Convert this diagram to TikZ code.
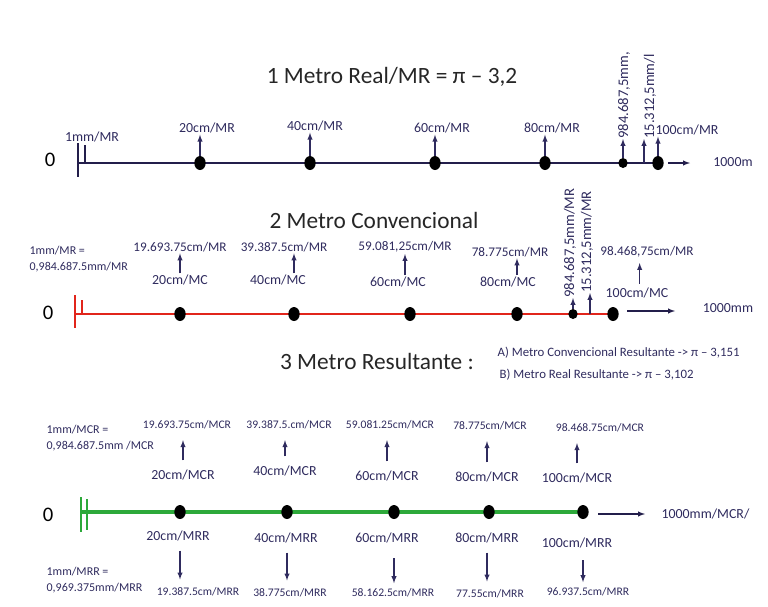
\documentclass[tikz,border=0pt]{standalone}
\usepackage{fontspec}
\setmainfont{Carlito}
\usepackage{tikz}
\usetikzlibrary{arrows}
\usetikzlibrary{positioning}
\usetikzlibrary{shapes.geometric}
\definecolor{ink}{HTML}{2F2B5E}
\definecolor{navy}{HTML}{231E4B}
\definecolor{rojo}{HTML}{E1251B}
\definecolor{verde}{HTML}{2DA93A}

\begin{document}
\begin{tikzpicture}[x=0.75pt,y=-0.75pt,
	lbl/.style={text=ink,font=\fontsize{10.4}{12}\selectfont,inner sep=1pt},
	val/.style={text=ink,font=\fontsize{9.9}{12}\selectfont,inner sep=1pt},
	vsm/.style={text=ink,font=\fontsize{8.7}{10}\selectfont,inner sep=1pt},
	sml/.style={text=ink,font=\fontsize{9}{12}\selectfont,inner sep=1pt,align=left,anchor=west},
	vlbl/.style={text=ink,font=\fontsize{11}{12}\selectfont,rotate=90,anchor=west,inner sep=0pt},
	ttl/.style={text=black!85,font=\fontsize{17.5}{20}\selectfont},
	zero/.style={font=\fontsize{15.5}{18}\selectfont},
	pnt/.style={ellipse,fill=black,inner sep=0pt,minimum width=8.5pt,minimum height=10.5pt},
	spnt/.style={ellipse,fill=black,inner sep=0pt,minimum width=7pt,minimum height=7.5pt},
	up/.style={-latex,ink,line width=0.8pt}
	]
	\useasboundingbox (0,0) rectangle (768,607);
	
	\node[ttl] (t1) at (392,77) {1 Metro Real/MR = π – 3,2};
	\node[zero] (o1) at (50,160) {0};
	\coordinate (s1) at (78,163);
	\coordinate (e1) at (658,163);
	\draw[navy,line width=2.2pt] (s1)--(e1);
	\draw[navy,line width=1.5pt] (78,143)--(78,177);
	\draw[navy,line width=1.5pt] (85,145)--(85,163);
	
	\node[pnt] (a20) at (200,163) {};
	\node[pnt] (a40) at (310,163) {};
	\node[pnt] (a60) at (435,163) {};
	\node[pnt] (a80) at (545,163) {};
	\node[spnt] (a98) at (623,163) {};
	\node[pnt] (a100) at (658,163) {};
	\coordinate (c15) at (644,163);
	
	\node[lbl] (l1) at (92,137) {1mm/MR};
	\node[lbl] (l20) at (207,128) {20cm/MR};
	\node[lbl] (l40) at (315,126) {40cm/MR};
	\node[lbl] (l60) at (442,128) {60cm/MR};
	\node[lbl] (l80) at (552,128) {80cm/MR};
	\node[lbl] (l100) at (687,130) {100cm/MR};
	\node[vlbl] (v98) at (624,139) {984.687,5mm,};
	\node[vlbl] (v15) at (650,139) {15.312,5mm/l};
	
	\draw[up] (a20.north)--(a20.north |- l20.south);
	\draw[up] (a40.north)--(a40.north |- l40.south);
	\draw[up] (a60.north)--(a60.north |- l60.south);
	\draw[up] (a80.north)--(a80.north |- l80.south);
	\draw[up] (a98.north)--(a98.north |- v98.west);
	\draw[up] (c15)--(c15 |- v15.west);
	\draw[up] (a100.north)--(a100.north |- l100.south);
	
	\coordinate (r1a) at (668,163);
	\coordinate (r1b) at (690,163);
	\draw[up,navy] (r1a)--(r1b);
	\node[lbl] (m1) at (733,162) {1000m};
	
	
	\node[ttl] (t2) at (374,220) {2 Metro Convencional};
	\node[sml] (k2) at (28,259) {1mm/MR =\\0,984.687.5mm/MR};
	\node[zero] (o2) at (48,313) {0};
	\coordinate (s2) at (75,314);
	\coordinate (e2) at (613,314);
	\draw[rojo,line width=2.2pt] (s2)--(e2);
	\draw[rojo,line width=1.5pt] (75,295)--(75,328);
	\draw[rojo,line width=1.5pt] (82,300)--(82,314);
	
	\node[pnt] (b20) at (180,314) {};
	\node[pnt] (b40) at (294,314) {};
	\node[pnt] (b60) at (410,314) {};
	\node[pnt] (b80) at (517,314) {};
	\node[spnt] (b98) at (573,314) {};
	\node[pnt] (b100) at (613,314) {};
	\coordinate (c15b) at (590,314);
	
	\node[val] (p20) at (180,247) {19.693.75cm/MR};
	\node[val] (p40) at (284,247) {39.387.5cm/MR};
	\node[val] (p60) at (405,247) {59.081,25cm/MR};
	\node[val] (p80) at (510,252) {78.775cm/MR};
	\node[val] (p100) at (647,252) {98.468,75cm/MR};
	\node[lbl] (q20) at (180,280) {20cm/MC};
	\node[lbl] (q40) at (278,280) {40cm/MC};
	\node[lbl] (q60) at (398,282) {60cm/MC};
	\node[lbl] (q80) at (508,282) {80cm/MC};
	\node[lbl] (q100) at (637,293) {100cm/MC};
	\node[vlbl] (w98) at (570,298) {984.687,5mm/MR};
	\node[vlbl] (w15) at (587,293) {15.312,5mm/MR};
	
	\draw[up] (q20.north -| b20)--(p20.south -| b20);
	\draw[up] (q40.north -| b40)--(p40.south -| b40);
	\draw[up] (q60.north -| p60)--(p60.south);
	\draw[up] (q80.north -| b80)--(p80.south -| b80);
	\draw[up,shorten >=3pt,shorten <=2pt] ([xshift=2pt]q100.north)--([xshift=2pt]q100.north |- p100.south);
	\draw[up] (b98.north)--(b98.north |- w98.west);
	\draw[up] (c15b)--(c15b |- w15.west);
	
	\coordinate (r2a) at (627,311);
	\coordinate (r2b) at (675,311);
	\draw[up,navy] (r2a)--(r2b);
	\node[lbl] (m2) at (728,308) {1000mm};
	
	
	\node[ttl] (t3) at (377,361) {3 Metro Resultante :};
	\node[text=ink,font=\fontsize{9.6}{12}\selectfont,anchor=west] (ra) at (493,353) {A) Metro Convencional Resultante -> π – 3,151};
	\node[text=ink,font=\fontsize{9.6}{12}\selectfont,anchor=west] (rb) at (495,375) {B) Metro Real Resultante -> π – 3,102};
	
	\node[sml] (k3) at (45,438) {1mm/MCR =\\0,984.687.5mm /MCR};
	\node[zero] (o3) at (48,515) {0};
	\coordinate (s3) at (81,512);
	\coordinate (e3) at (583,512);
	\draw[verde,line width=2.8pt] (s3)--(e3);
	\draw[verde,line width=1.8pt] (81,497)--(81,532);
	\draw[verde,line width=1.8pt] (87,499)--(87,530);
	
	\node[pnt] (c20) at (180,512) {};
	\node[pnt] (c40) at (287,512) {};
	\node[pnt] (c60) at (394,512) {};
	\node[pnt] (c80) at (489,512) {};
	\node[pnt] (c100) at (583,512) {};
	
	\node[vsm] (f20) at (187,425) {19.693.75cm/MCR};
	\node[vsm] (f40) at (289,425) {39.387.5.cm/MCR};
	\node[vsm] (f60) at (390,425) {59.081.25cm/MCR};
	\node[vsm] (f80) at (490,426) {78.775cm/MCR};
	\node[vsm] (f100) at (600,428) {98.468.75cm/MCR};
	\node[lbl] (g20) at (183,475) {20cm/MCR};
	\node[lbl] (g40) at (285,471) {40cm/MCR};
	\node[lbl] (g60) at (387,476) {60cm/MCR};
	\node[lbl] (g80) at (487,477) {80cm/MCR};
	\node[lbl] (g100) at (577,478) {100cm/MCR};
	
	\draw[up,shorten >=7pt,shorten <=6pt] (g20.north)--(g20.north |- f20.south);
	\draw[up,shorten >=7pt,shorten <=6pt] (g40.north)--(g40.north |- f40.south);
	\draw[up,shorten >=7pt,shorten <=6pt] (g60.north)--(g60.north |- f60.south);
	\draw[up,shorten >=7pt,shorten <=6pt] (g80.north)--(g80.north |- f80.south);
	\draw[up,shorten >=7pt,shorten <=6pt] (g100.north)--(g100.north |- f100.south);
	
	\coordinate (r3a) at (598,514);
	\coordinate (r3b) at (645,514);
	\draw[up,navy] (r3a)--(r3b);
	\node[lbl,anchor=west] (m3) at (660,514) {1000mm/MCR/};
	
	\node[lbl] (u20) at (178,536) {20cm/MRR};
	\node[lbl] (u40) at (286,538) {40cm/MRR};
	\node[lbl] (u60) at (387,538) {60cm/MRR};
	\node[lbl] (u80) at (487,538) {80cm/MRR};
	\node[lbl] (u100) at (577,543) {100cm/MRR};
	\node[vsm] (h20) at (198,592) {19.387.5cm/MRR};
	\node[vsm] (h40) at (290,593) {38.775cm/MRR};
	\node[vsm] (h60) at (393,593) {58.162.5cm/MRR};
	\node[vsm] (h80) at (490,594) {77.55cm/MRR};
	\node[vsm] (h100) at (588,592) {96.937.5cm/MRR};
	\node[sml] (k4) at (45,580) {1mm/MRR =\\0,969.375mm/MRR};
	
	\draw[up,shorten >=5pt,shorten <=6pt] (u20.south -| c20)--(h20.north -| c20);
	\draw[up,shorten >=5pt,shorten <=6pt] (u40.south -| c40)--(h40.north -| c40);
	\draw[up,shorten >=3pt,shorten <=10pt] (u60.south -| c60)--(h60.north -| c60);
	\draw[up,shorten >=5pt,shorten <=6pt] (u80.south -| g80)--(h80.north -| g80);
	\draw[up,shorten >=3pt,shorten <=8pt] (u100.south -| c100)--(h100.north -| c100);
	
\end{tikzpicture}
\end{document}
